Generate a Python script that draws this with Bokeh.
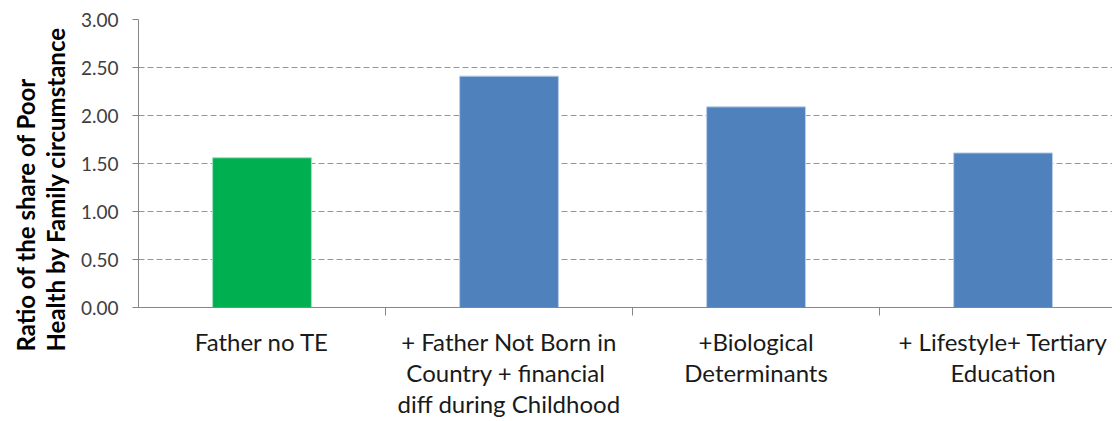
from bokeh.plotting import figure
from bokeh.models import Range1d, FixedTicker, Title, ColumnDataSource, NumeralTickFormatter
from bokeh.embed import file_html
from bokeh.resources import INLINE

categories = [
    "Father no TE",
    "+ Father Not Born in\nCountry +  financial\ndiff during Childhood",
    "+Biological\nDeterminants",
    "+ Lifestyle+ Tertiary\nEducation",
]
values = [1.56, 2.41, 2.09, 1.61]
colors = ["#00B050", "#4F81BD", "#4F81BD", "#4F81BD"]
edge_colors = ["#9fe0bb", "#b9cde6", "#b9cde6", "#b9cde6"]
y_ticks = [0.0, 0.5, 1.0, 1.5, 2.0, 2.5, 3.0]
y_title = "Ratio  of the share of Poor\nHealth by Family circumstance"

xs = list(range(len(categories)))
src = ColumnDataSource(dict(x=xs, top=values, color=colors, edge=edge_colors))

FONT = "Lato"

p = figure(width=1112, height=421, output_backend="svg", toolbar_location=None,
           x_range=Range1d(-0.5, 3.443), y_range=Range1d(0, 3.0),
           min_border_left=138, min_border_right=0, min_border_top=19, min_border_bottom=113)
p.outline_line_color = None
p.background_fill_color = "white"
p.border_fill_color = "white"

p.vbar(x="x", top="top", width=0.4, fill_color="color", line_color="edge", line_width=1, source=src)

# y axis
yax = p.yaxis[0]
yax.ticker = FixedTicker(ticks=y_ticks, minor_ticks=[])
yax.formatter = NumeralTickFormatter(format="0.00")
yax.axis_line_color = "#868686"
yax.major_tick_line_color = "#868686"
yax.major_tick_out = 6
yax.major_tick_in = 0
yax.minor_tick_line_color = None
yax.major_label_text_font = FONT
yax.major_label_text_font_size = "19px"
yax.major_label_text_color = "#404040"
yax.major_label_standoff = 14

# x axis
xax = p.xaxis[0]
xax.ticker = FixedTicker(ticks=xs, minor_ticks=[0.5, 1.5, 2.5])
xax.major_label_overrides = {i: c for i, c in zip(xs, categories)}
xax.axis_line_color = "#868686"
xax.major_tick_line_color = None
xax.major_tick_out = 0
xax.major_tick_in = 0
xax.minor_tick_line_color = "#868686"
xax.minor_tick_out = 8
xax.minor_tick_in = 0
xax.major_label_text_font = FONT
xax.major_label_text_font_size = "24px"
xax.major_label_text_color = "#1a1a1a"
xax.major_label_text_line_height = 1.08
xax.major_label_standoff = 11

p.xgrid.grid_line_color = None
p.ygrid.ticker = FixedTicker(ticks=y_ticks)
p.ygrid.grid_line_color = "#969696"
p.ygrid.grid_line_dash = "6 3"
p.ygrid.grid_line_width = 1

title = Title(text=y_title, align="left", offset=-44, standoff=15,
              text_font=FONT, text_font_style="bold", text_font_size="24px",
              text_color="#000000", text_line_height=1.04)
p.add_layout(title, "left")

open("out.html", "w").write(file_html(p, INLINE))
